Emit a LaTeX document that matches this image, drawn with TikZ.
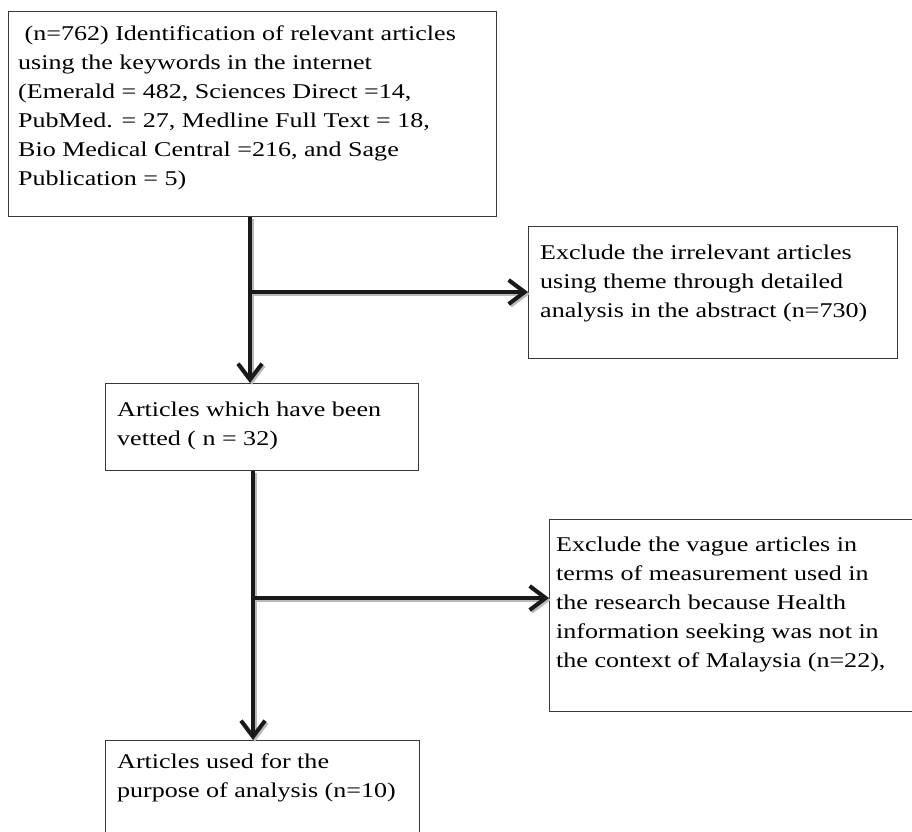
\documentclass[tikz,border=0pt]{standalone}
\usepackage{fontspec}
\setmainfont{Liberation Serif}[FakeStretch=1.24]
\usetikzlibrary{arrows.meta}
\begin{document}
\begin{tikzpicture}[x=1pt,y=-1pt,
  box/.style={draw=black!78, line width=1.2pt, anchor=north west, inner sep=0pt, fill=white},
  txt/.style={anchor=north west, inner sep=0pt, align=left, font=\fontsize{21}{29}\selectfont},
  arrmain/.style={line width=4pt, draw=black!90, -{Straight Barb[length=16pt,width=24pt]}},
  arrshadow/.style={arrmain, draw=gray!55, transform canvas={shift={(1.8,1.8)}}}]
\useasboundingbox (0,0) rectangle (912,831);
\clip (0,0) rectangle (912,831);
% boxes
\node[box, minimum width=488, minimum height=205] (b1) at (8,11) {};
\node[box, minimum width=369, minimum height=132] (b2) at (528,226) {};
\node[box, minimum width=313, minimum height=87] (b3) at (105,383) {};
\node[box, minimum width=380, minimum height=192] (b4) at (549,519) {};
\node[box, minimum width=314, minimum height=120] (b5) at (105,740) {};
% texts
\node[txt] (t1) at (18,19.7) {\strut\ (n=762) Identification of relevant articles\\
using the keywords in the internet\\
(Emerald = 482, Sciences Direct =14,\\
PubMed. = 27, Medline Full Text = 18,\\
Bio Medical Central =216, and Sage\\
Publication = 5)};
\node[txt] (t2) at (540,238.7) {\strut Exclude the irrelevant articles\\
using theme through detailed\\
analysis in the abstract (n=730)};
\node[txt] (t3) at (117,395.7) {\strut Articles which have been\\
vetted ( n = 32)};
\node[txt] (t4) at (556,530.7) {\strut Exclude the vague articles in\\
terms of measurement used in\\
the research because Health\\
information seeking was not in\\
the context of Malaysia (n=22),};
\node[txt] (t5) at (117,747.7) {\strut Articles used for the\\
purpose of analysis (n=10)};
% junctions
\coordinate (j1) at (250,292);
\coordinate (j2) at (253,598);
\coordinate (a1) at (b1.south -| j1);
\coordinate (a2) at (b3.north -| j1);
\coordinate (a3) at (b2.west |- j1);
\coordinate (c1) at (b3.south -| j2);
\coordinate (c2) at (b5.north -| j2);
\coordinate (c3) at (b4.west |- j2);
% shadows
\draw[arrshadow] (a1) -- (a2);
\draw[arrshadow] (j1) -- (a3);
\draw[arrshadow] (c1) -- (c2);
\draw[arrshadow] (j2) -- (c3);
% arrows
\draw[arrmain] (a1) -- (a2);
\draw[arrmain] (j1) -- (a3);
\draw[arrmain] (c1) -- (c2);
\draw[arrmain] (j2) -- (c3);
\end{tikzpicture}
\end{document}
